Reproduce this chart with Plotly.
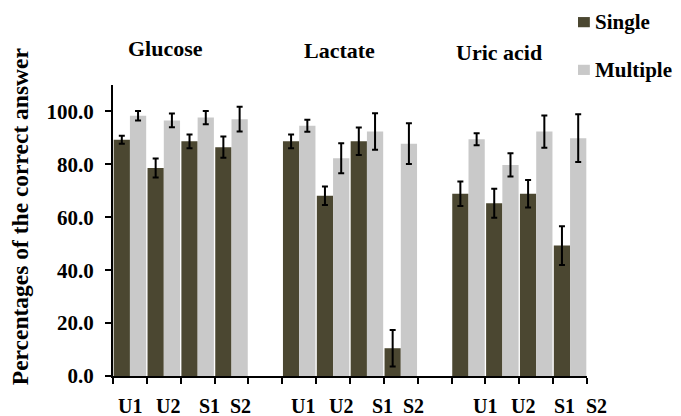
import plotly.graph_objects as go

# ---- data ----
groups = ["Glucose", "Lactate", "Uric acid"]
tests = ["U1", "U2", "S1", "S2"]

glucose_single = [89.3, 78.6, 88.7, 86.5]
glucose_single_err = [1.5, 3.6, 2.6, 4.0]
glucose_multiple = [98.4, 96.6, 97.7, 97.1]
glucose_multiple_err = [1.8, 2.6, 2.5, 4.7]

lactate_single = [88.7, 68.1, 88.7, 10.5]
lactate_single_err = [2.6, 3.5, 5.2, 6.9]
lactate_multiple = [94.6, 82.3, 92.4, 87.8]
lactate_multiple_err = [2.3, 5.7, 6.9, 7.7]

uric_single = [68.9, 65.3, 68.9, 49.3]
uric_single_err = [4.6, 5.5, 5.2, 7.3]
uric_multiple = [89.5, 79.8, 92.4, 89.9]
uric_multiple_err = [2.3, 4.4, 6.1, 9.0]

series_names = ["Single", "Multiple"]
y_ticks = [0, 20, 40, 60, 80, 100]

# ---- layout of categories (a blank slot between groups) ----
group_starts = [0, 5, 10]
xs = [g + i for g in group_starts for i in range(len(tests))]
N_SLOTS = 14  # x range -0.5 .. 13.5

single = glucose_single + lactate_single + uric_single
single_err = glucose_single_err + lactate_single_err + uric_single_err
multiple = glucose_multiple + lactate_multiple + uric_multiple
multiple_err = glucose_multiple_err + lactate_multiple_err + uric_multiple_err

FONT = "Liberation Serif"
SINGLE_C = "#4b4731"
MULTI_C = "#c9c9c9"
colors = [SINGLE_C, MULTI_C]

fig = go.Figure()
fig.add_trace(go.Bar(
    x=xs, y=single, name=series_names[0], marker_color=SINGLE_C, marker_line_width=0,
    error_y=dict(type="data", array=single_err, color="black", thickness=2, width=3),
))
fig.add_trace(go.Bar(
    x=xs, y=multiple, name=series_names[1], marker_color=MULTI_C, marker_line_width=0,
    error_y=dict(type="data", array=multiple_err, color="black", thickness=2, width=3),
))

bold = lambda s: dict(family=FONT, size=s, color="black", weight="bold")
to_paper = lambda xv: (xv + 0.5) / N_SLOTS

annotations = []
# x tick labels (placed as text slightly right of the category centres, as in the source)
label_offsets = [0.0, 0.12, 0.34, 0.28]
for g, off_base in zip(group_starts, [0.0, 0.11, 0.49]):
    for i, t in enumerate(tests):
        annotations.append(dict(
            x=to_paper(g + i + label_offsets[i] + off_base), y=-0.103,
            xref="paper", yref="paper",
            text=t, showarrow=False, xanchor="center", yanchor="middle",
            height=20, font=bold(20),
        ))
# group titles
title_x = [1.04, 6.2, 10.9]
title_y = [1.127, 1.12, 1.113]
for name, tx, ty in zip(groups, title_x, title_y):
    annotations.append(dict(
        x=to_paper(tx), y=ty, xref="paper", yref="paper", text=name, showarrow=False,
        xanchor="center", yanchor="middle", font=bold(22),
    ))
# y axis title
annotations.append(dict(
    x=-0.196, y=0.546, xref="paper", yref="paper",
    text="Percentages of the correct answer", textangle=-90, showarrow=False,
    xanchor="center", yanchor="middle", font=bold(23.5),
))

# legend (drawn as swatches + text so it does not push the plot margins)
shapes = []
leg_y = [1.216, 1.052]
for name, c, ly in zip(series_names, colors, leg_y):
    shapes.append(dict(
        type="rect", xref="paper", yref="paper",
        x0=0.981, x1=1.006, y0=ly - 0.0175, y1=ly + 0.0175,
        fillcolor=c, line=dict(width=0),
    ))
    annotations.append(dict(
        x=1.013, y=ly, xref="paper", yref="paper", text=name, showarrow=False,
        xanchor="left", yanchor="middle", font=bold(21),
    ))

# the page body adds an 8px margin, so the figure is sized/offset to compensate
fig.update_layout(
    width=673, height=408,
    margin=dict(l=105, r=94, t=77, b=40),
    paper_bgcolor="white", plot_bgcolor="white",
    barmode="group", bargap=0.04, bargroupgap=0.0,
    font=dict(family=FONT, size=21, color="black"),
    showlegend=False,
    annotations=annotations,
    shapes=shapes,
)
fig.update_xaxes(
    range=[-0.5, 13.5], showgrid=False, zeroline=False,
    showline=True, linecolor="black", linewidth=2,
    tickmode="array", tickvals=[v - 0.5 for v in range(15)],
    ticks="outside", ticklen=6, tickwidth=2, tickcolor="black",
    showticklabels=False,
)
fig.update_yaxes(
    range=[0, 110], showgrid=False, zeroline=False,
    showline=True, linecolor="black", linewidth=2,
    tickmode="array", tickvals=y_ticks, tickformat=".1f",
    ticks="outside", ticklen=6, tickwidth=2, tickcolor="black",
    ticklabelstandoff=7,
    tickfont=bold(21),
)

fig.write_html("out.html")
